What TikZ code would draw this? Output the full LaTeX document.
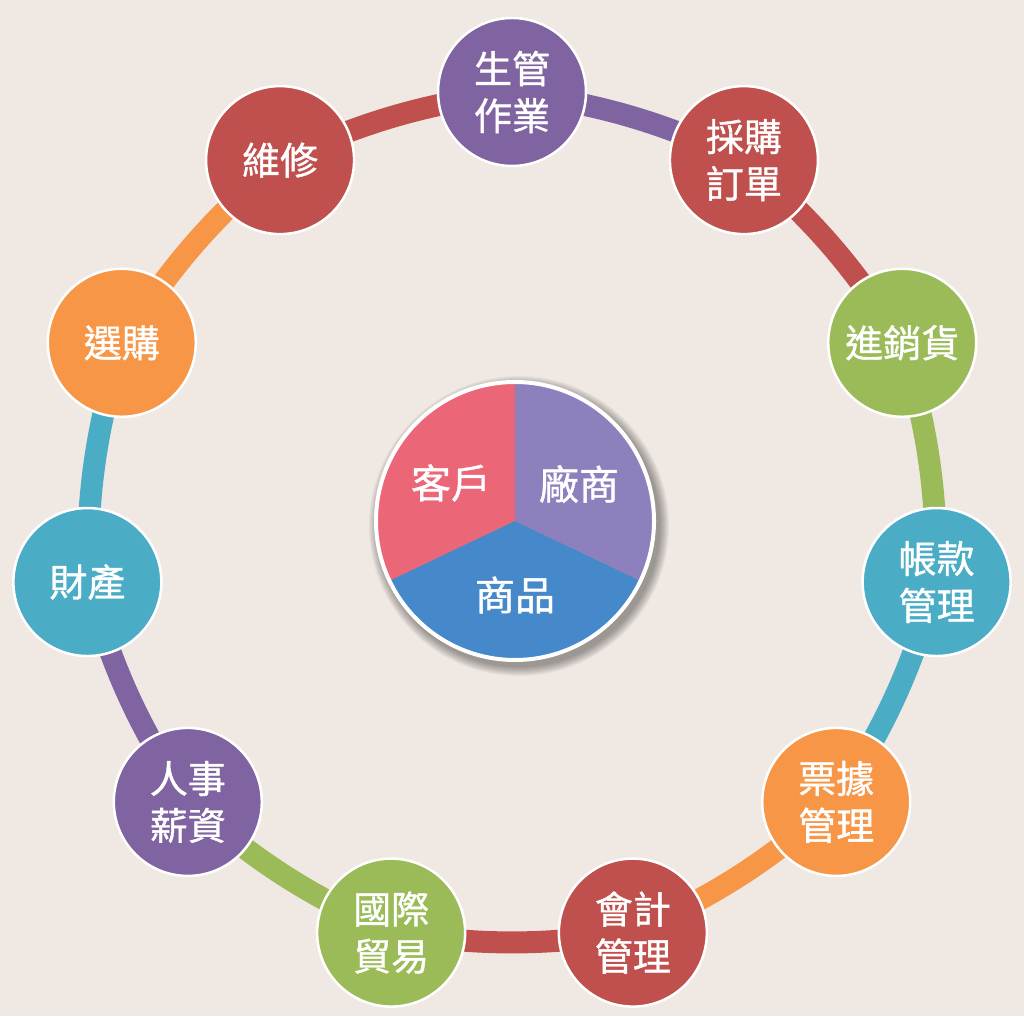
\documentclass[tikz,border=0pt]{standalone}
\usepackage{fontspec}
\setmainfont{Noto Sans CJK TC}[FakeBold=1]
\usetikzlibrary{backgrounds,calc}
\definecolor{bg}{HTML}{F0E8E3}
\definecolor{cpurple}{HTML}{8064A2}
\definecolor{cred}{HTML}{C0504D}
\definecolor{cgreen}{HTML}{9BBB59}
\definecolor{cblue}{HTML}{4BACC6}
\definecolor{corange}{HTML}{F79646}
\definecolor{ppink}{HTML}{EB6677}
\definecolor{ppurple}{HTML}{8E80BD}
\definecolor{pblue}{HTML}{4589CB}
\begin{document}
\begin{tikzpicture}[x=1pt,y=1pt,
  bub/.style={circle, fill=#1, draw=white, line width=2.5pt, minimum size=148pt,
    inner sep=0pt, text=white, font=\fontsize{38}{47}\selectfont, align=center},
  seg/.style={draw=#1, line width=22pt},
  lbl/.style={text=white, font=\fontsize{40}{48}\selectfont, inner sep=0pt}]
\useasboundingbox (0,0) rectangle (1024,1016);
% ring nodes
\foreach \i/\col/\txt in {0/cpurple/{生管\\作業},1/cred/{採購\\訂單},2/cgreen/{進銷貨},
  3/cblue/{帳款\\管理},4/corange/{票據\\管理},5/cred/{會計\\管理},6/cgreen/{國際\\貿易},
  7/cpurple/{人事\\薪資},8/cblue/{財產},9/corange/{選購},10/cred/{維修}}
  \node[bub=\col] (c\i) at ({512+429*cos(90-\i*360/11)},{495+429*sin(90-\i*360/11)}) {\txt};
% connectors
\begin{pgfonlayer}{background}
\fill[bg] (0,0) rectangle (1024,1016);
\foreach \i/\j/\col in {0/1/cpurple,1/2/cred,2/3/cgreen,3/4/cblue,4/5/corange,5/6/cred,
  6/7/cgreen,7/8/cpurple,8/9/cblue,9/10/corange,10/0/cred}
  \draw[seg=\col] (c\i.center) to[bend left=8] (c\j.center);
\end{pgfonlayer}
% central pie
\coordinate (pc) at (515,495);
\foreach \r in {0,...,9}
  \fill[black, opacity=0.04] ($(pc)+(4,-5)$) circle[radius={150-\r}];
\fill[ppink] (pc) -- ++(90:139pt) arc[start angle=90, end angle=205.5, radius=139pt] -- cycle;
\fill[pblue] (pc) -- ++(205.5:139pt) arc[start angle=205.5, end angle=334.5, radius=139pt] -- cycle;
\fill[ppurple] (pc) -- ++(-25.5:139pt) arc[start angle=-25.5, end angle=90, radius=139pt] -- cycle;
\node[circle, draw=white, line width=4pt, minimum size=278pt, inner sep=0pt] (pie) at (pc) {};
\node[lbl] (t1) at (451,533) {客戶};
\node[lbl] (t2) at (579,532) {廠商};
\node[lbl] (t3) at (515,421) {商品};
\end{tikzpicture}
\end{document}
